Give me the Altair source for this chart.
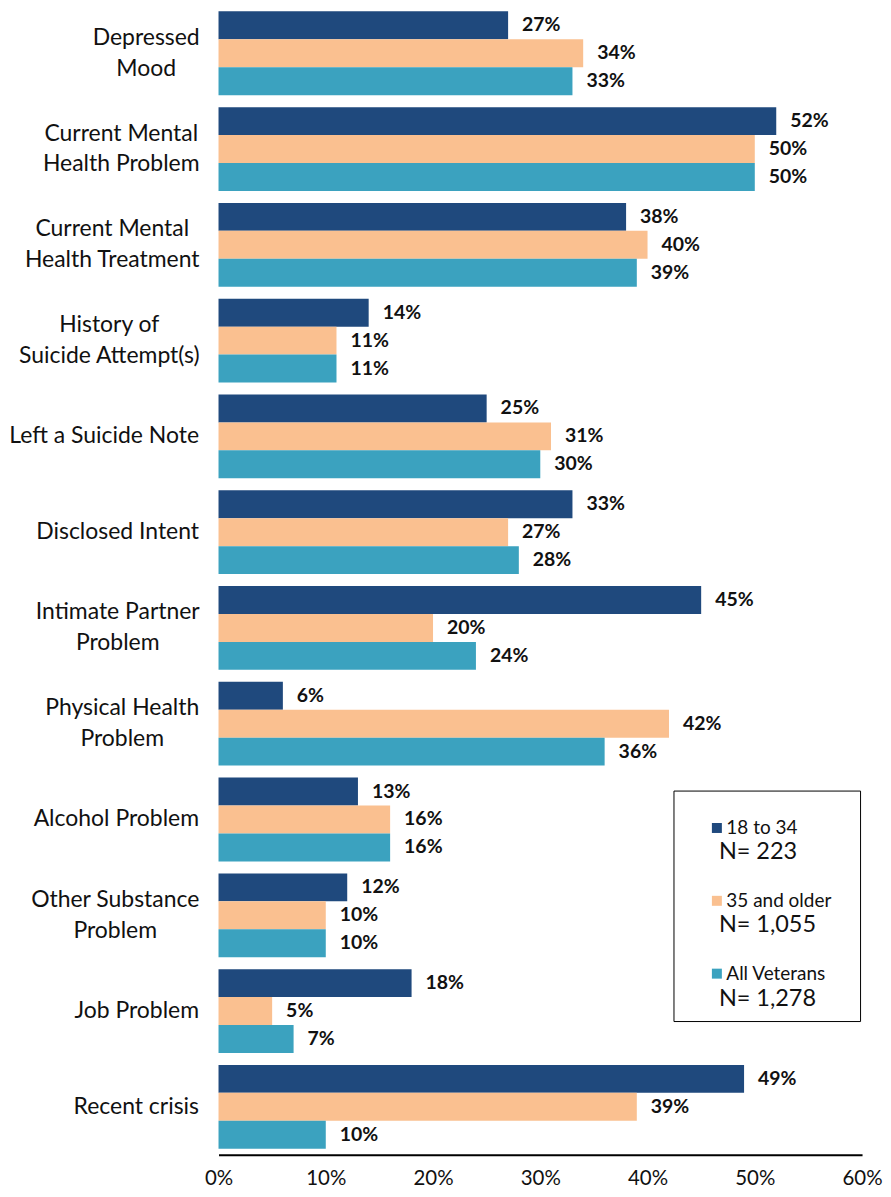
import altair as alt
import pandas as pd

categories = [
    "Depressed\nMood",
    "Current Mental\nHealth Problem",
    "Current Mental\nHealth Treatment",
    "History of\nSuicide Attempt(s)",
    "Left a Suicide Note",
    "Disclosed Intent",
    "Intimate Partner\nProblem",
    "Physical Health\nProblem",
    "Alcohol Problem",
    "Other Substance\nProblem",
    "Job Problem",
    "Recent crisis",
]
series = ["18 to 34", "35 and older", "All Veterans"]
n_counts = ["223", "1,055", "1,278"]

young = [27, 52, 38, 14, 25, 33, 45, 6, 13, 12, 18, 49]
older = [34, 50, 40, 11, 31, 27, 20, 42, 16, 10, 5, 39]
all_vets = [33, 50, 39, 11, 30, 28, 24, 36, 16, 10, 7, 10]
x_ticks = [0, 0.1, 0.2, 0.3, 0.4, 0.5, 0.6]

colors = ["#1F497D", "#FAC090", "#3BA2BF"]

# half width (px) of each two-line label block, used to centre its lines
half_block = [53, 78, 87, 90, 0, 0, 81.5, 77, 0, 84, 0, 0]
LABEL_GAP = 20

n_labels = [f"N= {n}" for n in n_counts]

rows = []
for s, nl, vals in zip(series, n_labels, [young, older, all_vets]):
    for c, v in zip(categories, vals):
        rows.append({"category": c, "series": s, "n_label": nl, "value": v / 100})
df = pd.DataFrame(rows)

pad_conditions = [
    {"test": "datum.value === '" + c.replace("\n", "\\n") + "'", "value": LABEL_GAP + h}
    for c, h in zip(categories, half_block)
    if h > 0
]

FONT = "Lato"

y_enc = alt.Y(
    "category:N",
    sort=categories,
    scale=alt.Scale(paddingInner=0.125, paddingOuter=0.0417, align=0.25),
    axis=alt.Axis(
        title=None,
        domain=False,
        ticks=False,
        labelPadding={"condition": pad_conditions, "value": LABEL_GAP},
        labelFont=FONT,
        labelFontSize=23,
        labelColor="#111111",
        labelAlign={"condition": {"test": "indexof(datum.value, '\\n') >= 0", "value": "center"}, "value": "right"},
        labelBaseline="middle",
        labelLineHeight=31,
        labelLimit=300,
        labelExpr="split(datum.label, '\\n')",
        labelOffset={"condition": {"test": "indexof(datum.value, '\\n') >= 0", "value": -15.5}, "value": 0},
        minExtent=210,
        maxExtent=210,
    ),
)
yoff = alt.YOffset("series:N", sort=series)
x_enc = alt.X(
    "value:Q",
    scale=alt.Scale(domain=[0, 0.6], nice=False),
    axis=alt.Axis(
        title=None,
        format=".0%",
        values=x_ticks,
        grid=False,
        ticks=False,
        labelFlush=False,
        domainColor="#000000",
        domainWidth=2,
        labelPadding=14,
        labelFont=FONT,
        labelFontSize=20.5,
        labelColor="#111111",
    ),
)

base = alt.Chart(df).encode(y=y_enc, yOffset=yoff, x=x_enc)

bars = base.mark_bar().encode(
    color=alt.Color(
        "series:N",
        sort=series,
        scale=alt.Scale(domain=series, range=colors),
        legend=alt.Legend(
            title=" ",
            titleOrient="bottom",
            titleFontSize=6,
            titlePadding=3,
            orient="none",
            legendX=456,
            legendY=783,
            strokeColor="#000000",
            padding=28,
            symbolOffset=6,
            symbolType="square",
            symbolSize=100,
            symbolStrokeWidth=0,
            symbolOpacity=1,
            labelOffset=0,
            labelFont=FONT,
            labelFontSize=19,
            labelColor="#111111",
            rowPadding=53,
        ),
    )
)

labels = base.mark_text(
    align="left", baseline="middle", dx=14, font=FONT, fontSize=19.5,
    fontWeight="bold", color="#111111"
).encode(
    text=alt.Text("value:Q", format=".0%"),
    opacity=alt.Opacity(
        "n_label:O",
        sort=n_labels,
        scale=alt.Scale(domain=n_labels, range=[1, 1, 1]),
        legend=alt.Legend(
            title=None,
            orient="none",
            legendX=478,
            legendY=833,
            padding=0,
            symbolSize=0,
            symbolOpacity=0,
            symbolStrokeWidth=0,
            labelOffset=0,
            labelFont=FONT,
            labelFontSize=23.5,
            labelColor="#111111",
            rowPadding=48.5,
        ),
    ),
)

chart = (
    alt.layer(bars, labels)
    .properties(width=645, height=1148, padding={"left": 0, "top": 0, "right": 0, "bottom": 5})
    .configure_view(stroke=None)
)

chart.save("out.html", embed_options={"renderer": "svg", "actions": False})
